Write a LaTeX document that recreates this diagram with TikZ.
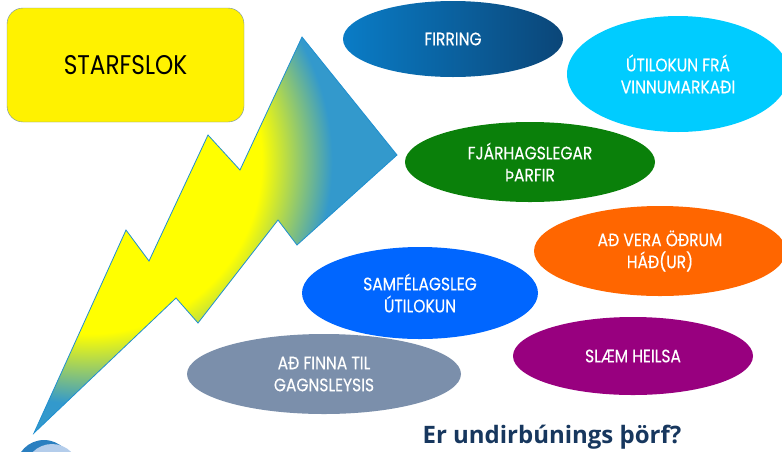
\documentclass[tikz,border=0pt]{standalone}
\usepackage{fontspec}
\usepackage{xcolor}
\usepackage{tikz}
\usetikzlibrary{shapes,positioning}
\newfontfamily\gothic[FakeStretch=0.86, FakeBold=0.3]{Poppins}
\newfontfamily\plaingothic[FakeStretch=0.86]{Poppins}
\newfontfamily\headfont{Open Sans}

\definecolor{boltblue}{HTML}{3399CC}
\definecolor{boltline}{HTML}{1F8FD0}
\definecolor{boxline}{HTML}{6D8BB0}
\definecolor{firringA}{HTML}{0A7CC6}
\definecolor{firringB}{HTML}{0B4678}
\definecolor{cyanish}{HTML}{00CCFF}
\definecolor{moneygreen}{HTML}{0A800A}
\definecolor{orangeish}{HTML}{FF6600}
\definecolor{socialblue}{HTML}{0066FF}
\definecolor{healthpurple}{HTML}{98007F}
\definecolor{greyblue}{HTML}{7B8FAB}
\definecolor{headblue}{HTML}{17375E}
\definecolor{logolight}{HTML}{B4CDEB}
\definecolor{logodark}{HTML}{2A7FC0}

\pgfdeclareradialshading{boltshade}{\pgfpoint{0bp}{0bp}}{color(0bp)=(yellow); color(13.5bp)=(yellow); color(19bp)=(boltblue); color(50bp)=(boltblue)}

\begin{document}
\begin{tikzpicture}[
    x=1pt, y=-1pt,
    bubble/.style={ellipse, inner sep=0pt, text=white, align=center,
        font=\gothic\fontsize{18}{22}\selectfont},
    oval/.style 2 args={minimum width=#1pt, minimum height=#2pt},
    titlebox/.style={draw=boxline, fill=yellow, rounded corners=16pt,
        minimum width=237pt, minimum height=114pt,
        font=\plaingothic\fontsize{27}{30}\selectfont},
]
\useasboundingbox (0,0) rectangle (782,451);

% Lightning bolt
\begin{scope}
    \clip (34,433) -- (126,230) -- (149,261) -- (208,135) -- (240,170)
        -- (302,37) -- (397,155) -- (297,245) -- (278,220) -- (198,323)
        -- (176,298) -- cycle;
    \shade[shading=boltshade] (89,161) circle (320);
\end{scope}
\draw[boltline, line width=0.8pt, line join=miter]
    (34,433) -- (126,230) -- (149,261) -- (208,135) -- (240,170)
    -- (302,37) -- (397,155) -- (297,245) -- (278,220) -- (198,323)
    -- (176,298) -- cycle;

% Title box
\node[titlebox] (title) at (125.5,65) {STARFSLOK};

% Consequences
\node[bubble, oval={220}{76}, left color=firringA, right color=firringB]
    (firring) at (453,39) {FIRRING};
\node[bubble, oval={222}{116}, fill=cyanish]
    (utilokun) at (678,74) {ÚTILOKUN FRÁ\\VINNUMARKAÐI};
\node[bubble, oval={250}{80}, fill=moneygreen]
    (fjarhag) at (530,162) {FJÁRHAGSLEGAR\\ÞARFIR};
\node[bubble, oval={252}{90}, fill=orangeish]
    (hadur) at (660,251) {AÐ VERA ÖÐRUM\\HÁÐ(UR)};
\node[bubble, oval={236}{92}, fill=socialblue]
    (samfelag) at (420,293) {SAMFÉLAGSLEG\\ÚTILOKUN};
\node[bubble, oval={240}{78}, fill=healthpurple]
    (heilsa) at (633,356) {SLÆM HEILSA};
\node[bubble, oval={274}{80}, fill=greyblue]
    (gagnsleysi) at (324,374) {AÐ FINNA TIL\\GAGNSLEYSIS};

% Question
\node[font=\headfont\bfseries\fontsize{24}{28}\selectfont, text=headblue]
    (question) at (552,437) {Er undirbúnings þörf?};

% Logo corner
\begin{scope}
    \clip (0,0) rectangle (782,451);
    \fill[logodark] (44,468) circle (28);
    \fill[logolight] (52,471) circle (27);
\end{scope}

\end{tikzpicture}
\end{document}
